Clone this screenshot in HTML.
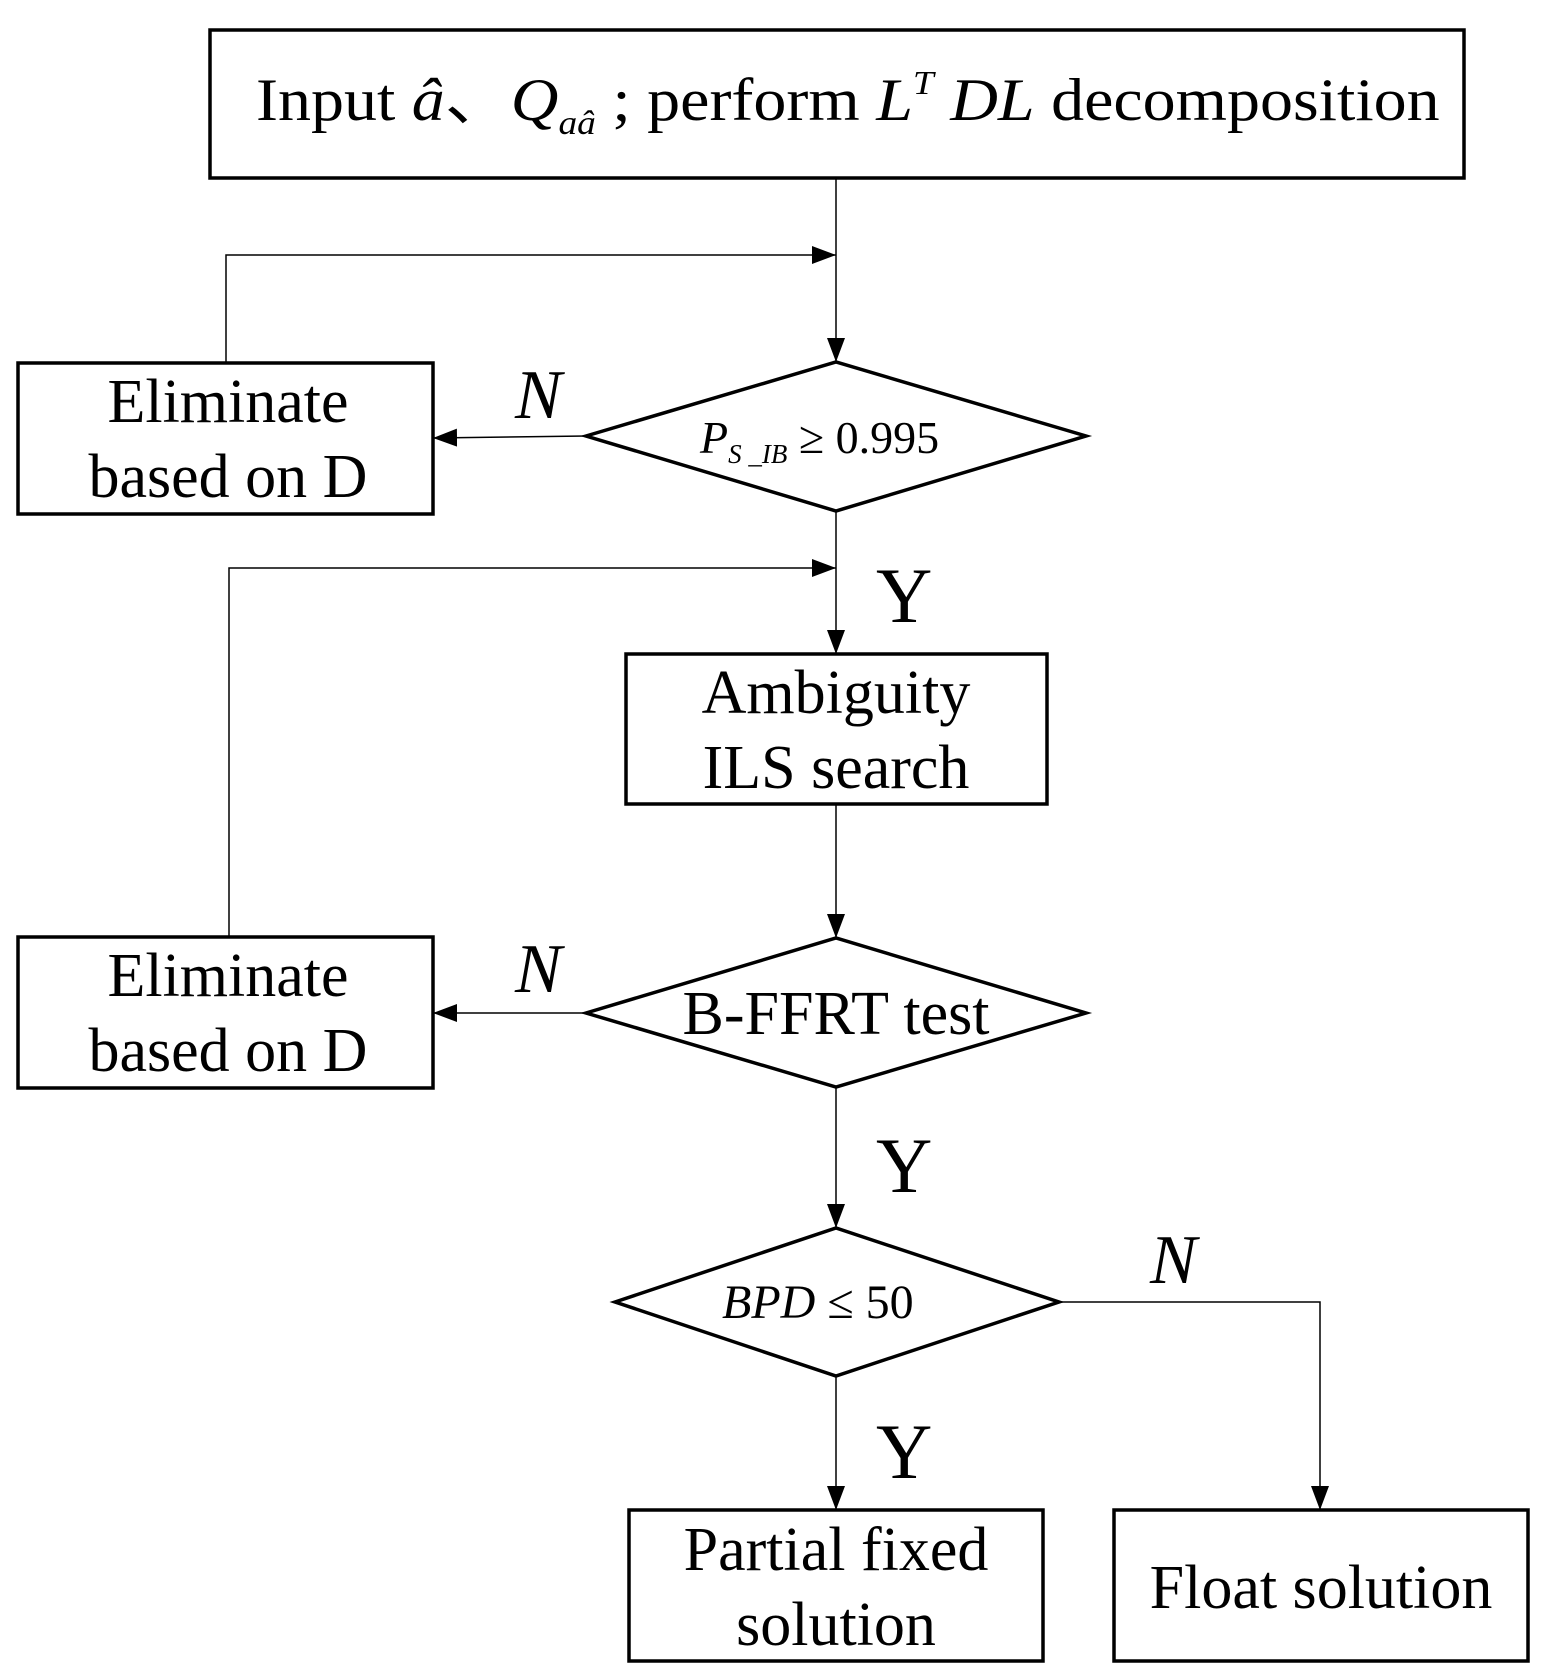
<!DOCTYPE html>
<html><head><meta charset="utf-8"><style>html,body{margin:0;padding:0;background:#fff}svg{display:block}</style></head>
<body>
<svg width="1548" height="1680" viewBox="0 0 1548 1680" xmlns="http://www.w3.org/2000/svg" font-family="'Liberation Serif', serif" fill="#000">
<defs><marker id="a" markerWidth="24" markerHeight="18" refX="24" refY="9" orient="auto" markerUnits="userSpaceOnUse"><path d="M0,0 L24,9 L0,18 Z"/></marker></defs>
<g fill="none" stroke="#000" stroke-width="3.5">
<rect x="210" y="30" width="1254" height="148"/>
<rect x="18" y="363" width="415" height="151"/>
<rect x="18" y="937" width="415" height="151"/>
<rect x="626" y="654" width="421" height="150"/>
<rect x="629" y="1510" width="414" height="151"/>
<rect x="1114" y="1510" width="414" height="151"/>
<polygon points="586,436 836,362 1086,436 836,511"/>
<polygon points="586,1013 836,938 1086,1013 836,1087"/>
<polygon points="615,1302 836,1228 1059,1302 836,1376"/>
</g>
<g fill="none" stroke="#000" stroke-width="1.5">
<line x1="836" y1="178" x2="836" y2="362" marker-end="url(#a)"/>
<polyline points="226,363 226,255 836,255" marker-end="url(#a)"/>
<line x1="586" y1="436" x2="433" y2="438" marker-end="url(#a)"/>
<line x1="836" y1="511" x2="836" y2="654" marker-end="url(#a)"/>
<polyline points="229,937 229,568 836,568" marker-end="url(#a)"/>
<line x1="836" y1="804" x2="836" y2="938" marker-end="url(#a)"/>
<line x1="586" y1="1013" x2="433" y2="1013" marker-end="url(#a)"/>
<line x1="836" y1="1087" x2="836" y2="1228" marker-end="url(#a)"/>
<polyline points="1059,1302 1320,1302 1320,1510" marker-end="url(#a)"/>
<line x1="836" y1="1376" x2="836" y2="1510" marker-end="url(#a)"/>
</g>
<g transform="translate(256,0) scale(1.1,1)">
<text x="0" y="120" font-size="60">Input <tspan font-style="italic">â</tspan>、<tspan font-style="italic">Q</tspan><tspan font-style="italic" font-size="34" dy="14">aâ</tspan><tspan dy="-14"> ;  perform </tspan><tspan font-style="italic">L</tspan><tspan font-style="italic" font-size="34" dy="-26">T</tspan><tspan font-style="italic" dy="26"> DL</tspan> decomposition</text>
</g>
<g font-size="62" text-anchor="middle">
<text x="228" y="422">Eliminate</text><text x="228" y="497">based on D</text>
<text x="228" y="996">Eliminate</text><text x="228" y="1071">based on D</text>
<text x="836" y="713">Ambiguity</text><text x="836" y="788">ILS search</text>
<text x="836" y="1570">Partial fixed</text><text x="836" y="1645">solution</text>
<text x="1321" y="1608">Float solution</text>
<text x="836" y="1034">B-FFRT test</text>
</g>
<text x="700" y="453" font-size="46"><tspan font-style="italic">P</tspan><tspan font-style="italic" font-size="27" dy="10">S _IB</tspan><tspan dy="-10"> ≥ 0.995</tspan></text>
<text x="722" y="1318" font-size="48"><tspan font-style="italic">BPD</tspan> ≤ 50</text>
<g font-size="70" font-style="italic">
<text x="515" y="418">N</text><text x="515" y="992">N</text><text x="1150" y="1283">N</text>
</g>
<g font-size="78">
<text x="876" y="622">Y</text><text x="876" y="1192">Y</text><text x="876" y="1478">Y</text>
</g>
</svg>
</body></html>
